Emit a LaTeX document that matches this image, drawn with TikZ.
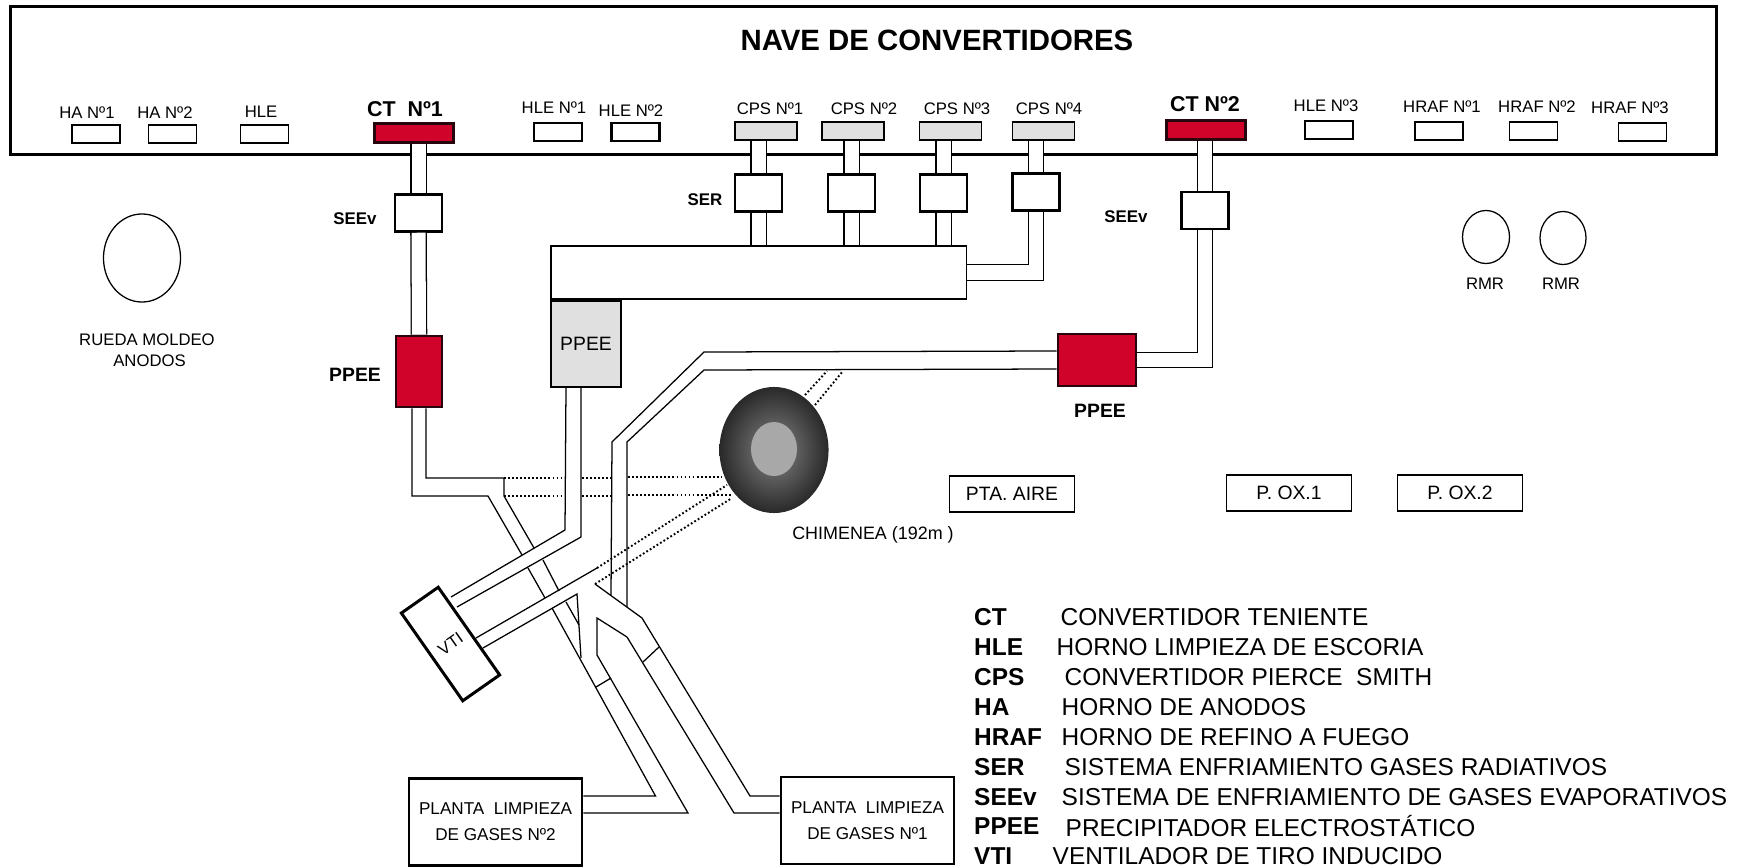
\documentclass[tikz,border=0pt]{standalone}
\usepackage{fontspec}
\setmainfont{Liberation Sans}
\usetikzlibrary{shapes.geometric}
\definecolor{ctred}{RGB}{208,4,42}
\definecolor{ctedge}{RGB}{40,6,14}
\definecolor{cpsgray}{RGB}{224,224,224}
\tikzset{
  wall/.style={line width=0.36pt},
  duct/.style={line width=0.36pt, double=white, double distance=0.14cm},
  dots/.style={line width=0.55pt, dash pattern=on 0.5pt off 0.65pt},
  lblsmall/.style={font=\fontsize{4.75}{5.7}\selectfont, inner sep=0pt},
  lblbold/.style={font=\fontsize{4.8}{5.8}\selectfont\bfseries, inner sep=0pt},
  lblct/.style={font=\fontsize{6.1}{7.2}\selectfont\bfseries, inner sep=0pt},
  lblppee/.style={font=\fontsize{5.5}{6.6}\selectfont\bfseries, inner sep=0pt},
  lblplain/.style={font=\fontsize{5.5}{6.6}\selectfont, inner sep=0pt},
  lblkey/.style={font=\fontsize{6.95}{8}\selectfont\bfseries, anchor=west, inner sep=0pt},
  lbltxt/.style={font=\fontsize{6.95}{8}\selectfont, anchor=west, inner sep=0pt},
  furnace/.style={draw, fill=white, line width=0.4pt, inner sep=0pt, minimum width=0.48cm, minimum height=0.18cm},
  hlebox/.style={furnace, line width=0.6pt},
  cpsbox/.style={furnace, fill=cpsgray, minimum width=0.62cm},
  ctbox/.style={draw=ctedge, fill=ctred, line width=0.7pt, inner sep=0pt, minimum width=0.79cm, minimum height=0.19cm},
  coolbox/.style={draw, fill=white, line width=0.7pt, inner sep=0pt, minimum width=0.47cm, minimum height=0.37cm},
  ppeered/.style={draw=ctedge, fill=ctred, line width=0.8pt, inner sep=0pt},
  roundel/.style={draw, ellipse, line width=0.36pt, inner sep=0pt},
  plantbox/.style={draw, fill=white, line width=0.7pt, inner sep=0pt, minimum width=1.73cm, minimum height=0.87cm},
  auxbox/.style={draw, line width=0.4pt, inner sep=0pt, minimum width=1.25cm, minimum height=0.36cm,
    font=\fontsize{5.5}{6.6}\selectfont}
}

\begin{document}
\begin{tikzpicture}[x=0.01cm, y=-0.01cm]
  \useasboundingbox (0,0) rectangle (1749,867);

  % Building
  \node[draw, line width=0.8pt, inner sep=0pt, minimum width=17.05cm, minimum height=1.48cm] (hall) at (863.5,80.5) {};
  \node[font=\fontsize{8.35}{10}\selectfont\bfseries, inner sep=0pt] (title) at (937,40) {NAVE DE CONVERTIDORES};

  % Furnaces
  \node[furnace] (ha1) at (96,134) {};
  \node[furnace] (ha2) at (172.5,134) {};
  \node[furnace] (hle) at (264.5,134) {};
  \node[ctbox] (ct1) at (414,133) {};
  \node[hlebox] (hle1) at (558,132) {};
  \node[hlebox] (hle2) at (635.5,132) {};
  \node[cpsbox] (cps1) at (766,131) {};
  \node[cpsbox] (cps2) at (853,131) {};
  \node[cpsbox] (cps3) at (950.5,131) {};
  \node[cpsbox] (cps4) at (1043.5,131) {};
  \node[ctbox] (ct2) at (1206,130) {};
  \node[furnace] (hle3) at (1329,130) {};
  \node[furnace] (hraf1) at (1439,131) {};
  \node[furnace] (hraf2) at (1533.5,131) {};
  \node[furnace] (hraf3) at (1642.5,132) {};

  % Furnace labels
  \node[lblsmall] (lha1) at (87,113) {HA Nº1};
  \node[lblsmall] (lha2) at (165,113) {HA Nº2};
  \node[lblsmall] (lhle) at (261,112) {HLE};
  \node[lblct] (lct1) at (405,109) {CT\ \ Nº1};
  \node[lblsmall] (lhle1) at (554,108) {HLE Nº1};
  \node[lblsmall] (lhle2) at (631,111) {HLE Nº2};
  \node[lblsmall] (lcps1) at (770,109) {CPS Nº1};
  \node[lblsmall] (lcps2) at (864,109) {CPS Nº2};
  \node[lblsmall] (lcps3) at (957,109) {CPS Nº3};
  \node[lblsmall] (lcps4) at (1049,109) {CPS Nº4};
  \node[lblct] (lct2) at (1205,104) {CT Nº2};
  \node[lblsmall] (lhle3) at (1326,106) {HLE Nº3};
  \node[lblsmall] (lhraf1) at (1442,107) {HRAF Nº1};
  \node[lblsmall] (lhraf2) at (1537,107) {HRAF Nº2};
  \node[lblsmall] (lhraf3) at (1630,108) {HRAF Nº3};

  % Cooling boxes
  \node[coolbox] (see1) at (418.5,213) {};
  \node[coolbox] (see2) at (1205,210.5) {};
  \node[coolbox] (ser1) at (758.5,193) {};
  \node[coolbox] (ser2) at (851.5,193) {};
  \node[coolbox] (ser3) at (943.5,193) {};
  \node[coolbox] (ser4) at (1036,192) {};
  \node[lblbold] (lsee1) at (355,219) {SEEv};
  \node[lblbold] (lsee2) at (1126,217) {SEEv};
  \node[lblbold] (lser) at (705,200) {SER};

  % Precipitators
  \node[ppeered, minimum width=0.46cm, minimum height=0.71cm] (ppee1) at (419,371.5) {};
  \node[ppeered, minimum width=0.78cm, minimum height=0.52cm] (ppee2) at (1097,360) {};
  \node[draw, fill=white, line width=0.36pt, inner sep=0pt, minimum width=4.15cm, minimum height=0.53cm] (manifold) at (758.5,272.5) {};
  \node[draw, fill=cpsgray, line width=0.5pt, inner sep=0pt, minimum width=0.70cm, minimum height=0.86cm, font=\fontsize{5.5}{6.6}\selectfont] (ppeeg) at (586,344) {PPEE};
  \node[lblppee] (lppee1) at (355,375) {PPEE};
  \node[lblppee] (lppee2) at (1100,411) {PPEE};

  % Wheels
  \node[roundel, minimum width=0.77cm, minimum height=0.88cm] (rueda) at (142,258) {};
  \node[roundel, minimum width=0.47cm, minimum height=0.53cm] (rmr1) at (1486,237) {};
  \node[roundel, minimum width=0.46cm, minimum height=0.53cm] (rmr2) at (1563,238) {};
  \node[lblsmall] (lrueda) at (147,340) {RUEDA MOLDEO};
  \node[lblsmall] (lanodos) at (149.5,361) {ANODOS};
  \node[lblsmall] (lrmr1) at (1485,284) {RMR};
  \node[lblsmall] (lrmr2) at (1561,284) {RMR};

  % Stack
  \node[ellipse, inner sep=0pt, minimum width=1.09cm, minimum height=1.26cm, inner color=black!48, outer color=black!84] (stack) at (774,450) {};
  \node[ellipse, inner sep=0pt, fill=black!34, minimum width=0.46cm, minimum height=0.54cm] (stackcore) at (774,449) {};
  \node[lblsmall, font=\fontsize{5.1}{6}\selectfont] (lstack) at (873,535) {CHIMENEA (192m )};

  % Other plants
  \node[auxbox] (aire) at (1012,494) {PTA. AIRE};
  \node[auxbox] (ox1) at (1289,493) {P. OX.1};
  \node[auxbox] (ox2) at (1460,493) {P. OX.2};
  \node[plantbox, align=center, font=\fontsize{4.87}{6}\selectfont] (plantb) at (495.5,822) {PLANTA\ \ LIMPIEZA\\[1.3pt]DE GASES Nº2};
  \node[plantbox, align=center, font=\fontsize{4.87}{6}\selectfont] (planta) at (867.5,820.5) {PLANTA\ \ LIMPIEZA\\[1.3pt]DE GASES Nº1};
  \node[draw, fill=white, line width=0.85pt, inner sep=0pt, rotate=35, minimum width=0.45cm, minimum height=1.07cm, font=\fontsize{4.75}{5.7}\selectfont] (vti) at (450.5,644) {VTI};

  % Ducts from the furnaces
  \draw[duct] (ct1.south -| see1.north) -- (see1.north);
  \draw[duct] (see1.south) -- (ppee1.north);
  \draw[duct] (ct2.south -| see2.north) -- (see2.north);
  \draw[duct] (see2.south) |- (ppee2.east);
  \draw[duct] (cps1.south -| ser1.north) -- (ser1.north);
  \draw[duct] (ser1.south) -- (ser1.south |- manifold.north);
  \draw[duct] (cps2.south -| ser2.north) -- (ser2.north);
  \draw[duct] (ser2.south) -- (ser2.south |- manifold.north);
  \draw[duct] (cps3.south -| ser3.north) -- (ser3.north);
  \draw[duct] (ser3.south) -- (ser3.south |- manifold.north);
  \draw[duct] (cps4.south -| ser4.north) -- (ser4.north);
  \draw[duct] (ser4.south) |- (manifold.east);

  % CT1 line down to plant 2
  \draw[wall] ([xshift=-0.07cm]ppee1.south) -- (412,496) -- (488,496) -- (522,555);
  \draw[wall] (528,568) -- (545,598);
  \draw[wall] (552,608) -- (655.5,796) -- ([yshift=0.26cm]plantb.east);
  \draw[wall] ([xshift=0.07cm]ppee1.south) -- (426,478) -- (504,478) -- (504,496) -- (534,548);
  \draw[wall] (543,560) -- (559,591);
  \draw[wall] (566,602) -- (579,625);

  % Lines to the fan
  \draw[wall] ([xshift=-0.20cm]ppeeg.south) -- (565,530) -- (451,597);
  \draw[wall] ([xshift=-0.05cm]ppeeg.south) -- (581,537) -- (457,607);
  \draw[wall] ([yshift=0.09cm]ppee2.west) -- (704,352) -- (612,442) -- (611,595);
  \draw[wall] ([yshift=-0.09cm]ppee2.west) -- (704,370) -- (627,442) -- (627,607);
  \draw[wall] (476,638) -- (597,568);
  \draw[wall] (483,648) -- (577,594) -- (581,658);

  % Branch to both plants
  \draw[wall] (595,584) -- (642,618) -- (750,796) -- ([yshift=0.245cm]planta.west);
  \draw[wall] ([yshift=0.075cm]planta.west) -- (734,813) -- (627,637) -- (597,618) -- (597,655) -- (688,813) -- ([yshift=0.09cm]plantb.east);
  \draw[wall] (596,687) -- (611,678);
  \draw[wall] (643,662) -- (659,647);

  % Dotted connections to the stack
  \draw[dots] (504,478) -- (565,478);
  \draw[dots] (582,478) -- (611,478);
  \draw[dots] (628,477) -- (722,477);
  \draw[dots] (504,496) -- (565,496);
  \draw[dots] (582,496) -- (611,496);
  \draw[dots] (628,495) -- (733,495);
  \draw[dots] (597,568) -- (727,485);
  \draw[dots] (595,584) -- (732,498);
  \draw[dots] (805,395) -- (827,371);
  \draw[dots] (815,405) -- (843,371);

  % Key
  \node[lblkey] (kct) at (973.5,617) {CT};
  \node[lbltxt] (tct) at (1060,617) {CONVERTIDOR TENIENTE};
  \node[lblkey] (khle) at (973.5,647) {HLE};
  \node[lbltxt] (thle) at (1056,647) {HORNO LIMPIEZA DE ESCORIA};
  \node[lblkey] (kcps) at (973.5,677) {CPS};
  \node[lbltxt] (tcps) at (1064,677) {CONVERTIDOR PIERCE\ \ SMITH};
  \node[lblkey] (kha) at (973.5,707) {HA};
  \node[lbltxt] (tha) at (1061,707) {HORNO DE ANODOS};
  \node[lblkey] (khraf) at (973.5,737) {HRAF};
  \node[lbltxt] (thraf) at (1061,737) {HORNO DE REFINO A FUEGO};
  \node[lblkey] (kser) at (973.5,767) {SER};
  \node[lbltxt] (tser) at (1064,767) {SISTEMA ENFRIAMIENTO GASES RADIATIVOS};
  \node[lblkey] (ksee) at (973.5,797) {SEEv};
  \node[lbltxt] (tsee) at (1061,797) {SISTEMA DE ENFRIAMIENTO DE GASES EVAPORATIVOS};
  \node[lblkey] (kppee) at (973.5,826) {PPEE};
  \node[lbltxt] (tppee) at (1065,826) {PRECIPITADOR ELECTROSTÁTICO};
  \node[lblkey] (kvti) at (973.5,856) {VTI};
  \node[lbltxt] (tvti) at (1052,856) {VENTILADOR DE TIRO INDUCIDO};
\end{tikzpicture}
\end{document}
